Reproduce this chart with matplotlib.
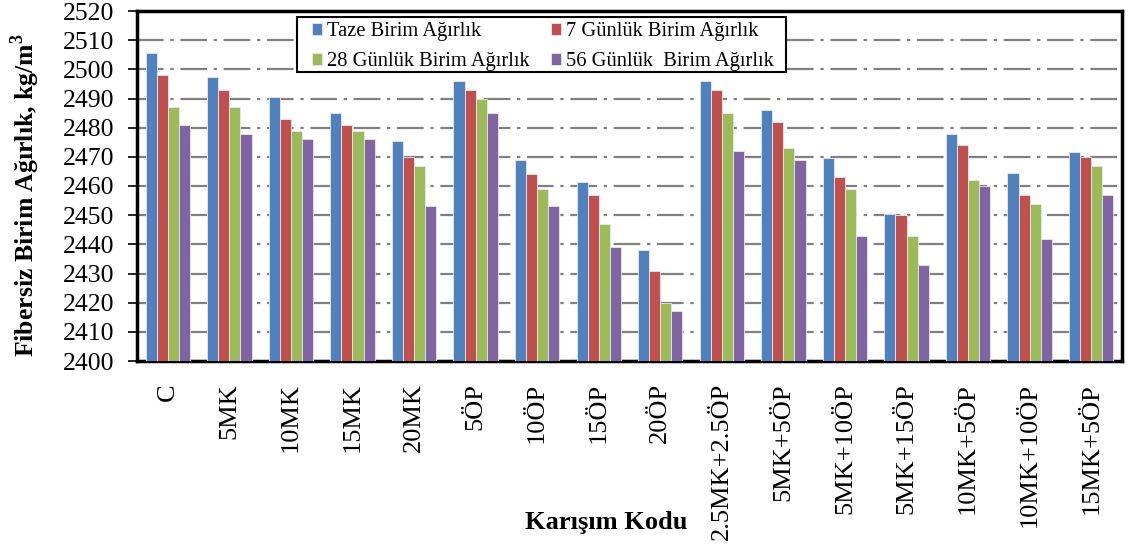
import numpy as np
import matplotlib

matplotlib.use("Agg")
import matplotlib.pyplot as plt
from matplotlib.patches import Rectangle

plt.rcParams["font.family"] = ["Liberation Serif", "DejaVu Serif"]
plt.rcParams["mathtext.fontset"] = "custom"
plt.rcParams["mathtext.rm"] = "Liberation Serif"
plt.rcParams["mathtext.bf"] = "Liberation Serif:bold"

# mixture codes and unit weights (kg/m3)
codes = ["C", "5MK", "10MK", "15MK", "20MK", "5ÖP", "10ÖP", "15ÖP", "20ÖP",
         "2.5MK+2.5ÖP", "5MK+5ÖP", "5MK+10ÖP", "5MK+15ÖP", "10MK+5ÖP",
         "10MK+10ÖP", "15MK+5ÖP"]
taze = [2505.5, 2497.5, 2490.5, 2485, 2475.5, 2496, 2469, 2461.5, 2438,
        2496, 2486, 2469.5, 2450.5, 2478, 2464.5, 2471.5]
gun7 = [2498, 2493, 2483, 2481, 2470, 2493, 2464, 2457, 2431,
        2493, 2482, 2463, 2450, 2474, 2457, 2470]
gun28 = [2487, 2487, 2479, 2479, 2467, 2490, 2459, 2447, 2420,
         2485, 2473, 2459, 2443, 2462, 2454, 2467]
gun56 = [2481, 2478, 2476, 2476, 2453, 2485, 2453, 2439, 2417,
         2472, 2469, 2443, 2433, 2460, 2442, 2457]

series = [taze, gun7, gun28, gun56]
names = ["Taze Birim Ağırlık", "7 Günlük Birim Ağırlık",
         "28 Günlük Birim Ağırlık", "56 Günlük  Birim Ağırlık"]
colors = ["#4F81BD", "#C0504D", "#9BBB59", "#8064A2"]

W, H = 1134, 545
fig = plt.figure(figsize=(W / 100, H / 100), dpi=100)
ax = fig.add_axes([137 / W, 1 - 361 / H, 985 / W, 350 / H])

x = np.arange(len(codes))
w = 0.18
handles = []
for i, (vals, name, c) in enumerate(zip(series, names, colors)):
    b = ax.bar(x + (i - 1.5) * w, np.array(vals) - 2400, bottom=2400, width=w,
               color=c, edgecolor="#e8e8f0", linewidth=0.6, label=name, zorder=3)
    handles.append(b)

ax.set_xlim(-0.5, len(codes) - 0.5)
ax.set_ylim(2400, 2520)
ax.set_yticks(np.arange(2400, 2521, 10))
ax.yaxis.grid(True, color="#808080", linestyle=(0, (12, 3, 1.5, 3)), linewidth=1.6, zorder=0)
ax.set_axisbelow(True)

ax.set_xticks(x)
ax.set_xticklabels(codes, rotation=90, fontsize=19, va="top")
ax.tick_params(axis="x", length=0, pad=16)
ax.tick_params(axis="y", labelsize=18.5, length=6.5, width=1.2, pad=10, direction="out")
for s in ax.spines.values():
    s.set_linewidth(2.5)

ax.set_ylabel("Fibersiz Birim Ağırlık, kg/m$^\\mathbf{3}$", fontsize=18.5, fontweight="bold")
ax.yaxis.label.set_va("center")
ax.yaxis.set_label_coords(-0.114, 0.474)
fig.text(606 / W, 1 - 522 / H, "Karışım Kodu", ha="center", va="center",
         fontsize=19, fontweight="bold")

# legend box drawn separately so its size matches the original
ax.add_patch(Rectangle((160 / 985, (361 - 72) / 350), 489 / 985, 55 / 350,
                       transform=ax.transAxes, facecolor="white", edgecolor="black",
                       linewidth=1.5, zorder=4, clip_on=False))
order = [0, 2, 1, 3]
leg = ax.legend([handles[k] for k in order], [names[k] for k in order], ncol=2,
                loc="upper left", bbox_to_anchor=(175 / 985, (361 - 22) / 350),
                fontsize=14.8, frameon=False, handlelength=0.5, handleheight=0.5,
                handletextpad=0.25, columnspacing=1.0, borderpad=0,
                labelspacing=0.55, borderaxespad=0)
leg.set_zorder(5)

fig.savefig("out.png", dpi=100)
